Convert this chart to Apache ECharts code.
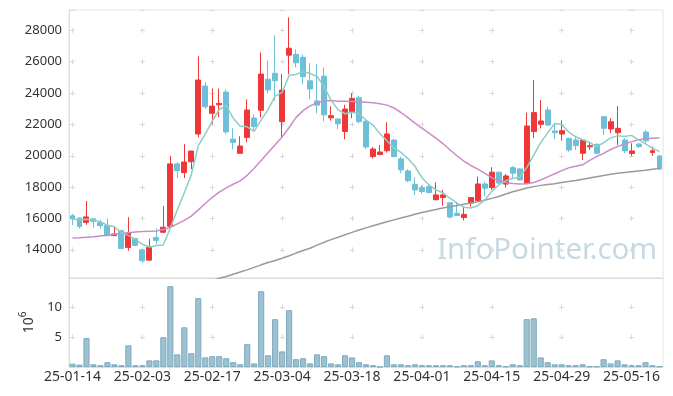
<!DOCTYPE html>
<html><head><meta charset="utf-8">
<script src="https://cdn.jsdelivr.net/npm/echarts@6/dist/echarts.min.js"></script>
<style>html,body{margin:0;padding:0;background:#fff}#c{width:673px;height:396px}</style>
</head><body><div id="c"></div>
<script>
const dates = [
'25-01-14','25-01-15','25-01-16','25-01-17','25-01-20','25-01-21','25-01-22','25-01-23','25-01-24','25-01-31',
'25-02-03','25-02-04','25-02-05','25-02-06','25-02-07','25-02-10','25-02-11','25-02-12','25-02-13','25-02-14',
'25-02-17','25-02-18','25-02-19','25-02-20','25-02-21','25-02-24','25-02-25','25-02-26','25-02-27','25-02-28',
'25-03-04','25-03-05','25-03-06','25-03-07','25-03-10','25-03-11','25-03-12','25-03-13','25-03-14','25-03-17',
'25-03-18','25-03-19','25-03-20','25-03-21','25-03-24','25-03-25','25-03-26','25-03-27','25-03-28','25-03-31',
'25-04-01','25-04-02','25-04-03','25-04-04','25-04-07','25-04-08','25-04-09','25-04-10','25-04-11','25-04-14',
'25-04-15','25-04-16','25-04-17','25-04-18','25-04-21','25-04-22','25-04-23','25-04-24','25-04-25','25-04-28',
'25-04-29','25-04-30','25-05-02','25-05-07','25-05-08','25-05-09','25-05-12','25-05-13','25-05-14','25-05-15',
'25-05-16','25-05-19','25-05-20','25-05-21','25-05-22'];

const openP = [16170,16030,15750,15975,15740,15550,14900,15220,14150,14720,
14000,13340,14780,15120,15500,19480,18920,19620,21390,24450,
22710,23250,24060,21060,20160,21170,22410,22900,24880,25260,
22175,26420,26470,26280,24780,23500,25080,22420,22350,21550,
22820,23700,22200,19950,20080,20320,21000,19800,19030,18180,
17970,18030,17200,17330,17000,16330,16060,16980,17140,18200,
17970,18950,18190,19240,19160,18250,21540,22010,22920,21580,
21390,21110,21000,20160,20570,20730,22490,21710,21470,21000,
20140,20750,21510,20200,19990];
const closeP = [15980,15480,16100,15800,15540,14900,15010,14080,15070,14280,
13300,14150,14600,15440,19480,19050,19600,20300,24830,23130,
23170,23340,21520,20840,20620,22920,21860,25210,24200,24790,
24190,26860,25930,25040,24260,23230,22610,22560,22040,22980,
23660,22180,20560,20430,20240,21390,19950,19100,18410,17820,
17720,17650,17500,17500,16090,16190,16260,17330,18200,17930,
18950,18260,18710,18890,18460,21900,22750,22220,21960,21470,
21600,20370,20650,21000,20640,20160,21750,22170,21750,20310,
20310,20580,20950,20320,19150];
const lowP = [15580,15360,15600,15380,15360,14880,14890,14060,13940,14250,
13150,13320,14360,15060,15440,18570,18570,19140,21180,23000,
22050,22460,21360,20410,20140,20860,21650,22450,24000,23530,
21160,25200,25640,24580,23610,22700,22190,22240,21710,21050,
22390,22070,20430,19820,20040,20200,19900,18890,18310,17500,
17560,17610,17140,16820,16000,16170,15880,16760,17050,17420,
17830,18200,17980,18570,18420,18200,21120,21750,21900,21070,
20970,20260,20370,19730,20370,20100,21330,21440,20690,20160,
19990,20500,20800,19990,19100];
const highP = [16300,16050,17110,15990,15900,16000,15490,15280,16080,14760,
14020,14700,15380,16800,19990,19580,20740,20320,26340,24700,
24290,24290,24240,21750,21240,23600,22650,26590,26080,27680,
25220,28830,26790,26470,25900,25870,25640,23160,22370,23250,
23980,23810,22280,20560,20680,22135,21080,19940,19140,18620,
18140,18110,18300,17820,17030,17030,16760,17350,18670,18350,
19270,19000,18840,19350,19210,22750,24830,23555,23130,22070,
22260,21150,21260,21050,20840,20790,22540,22390,23170,21110,
20800,20820,21640,20580,20050];

const ma5 = [15950,15920,15950,15900,15780,15570,15470,15070,14920,14670,
14350,14180,14280,14310,15390,16550,17640,18780,20650,21380,
22210,22950,23200,22400,21900,21850,21550,22290,22960,23800,
24040,25130,25190,25360,25260,25060,24410,23540,22940,22680,
22770,22680,22280,21960,21410,20960,20500,20220,19820,19330,
18600,18140,17820,17640,17290,16990,16710,16670,16810,17180,
17730,18130,18410,18550,18650,19240,20040,20850,21460,22060,
22000,21520,21210,21020,20850,20560,20840,21140,21270,21230,
21300,21020,20760,20490,20260];
const ma20 = [14745,14770,14800,14830,14880,14930,14990,15040,15090,15130,
15160,15180,15200,15300,15420,15650,15880,16150,16550,16950,
17350,17680,17950,18180,18400,18750,19200,19700,20200,20700,
21200,21800,22450,22880,23180,23380,23500,23520,23480,23470,
23460,23450,23420,23380,23320,23230,23050,22760,22430,22080,
21760,21440,21120,20780,20380,20000,19660,19380,19150,18870,
18600,18420,18300,18230,18200,18220,18290,18450,18650,18850,
19050,19230,19330,19420,19700,19950,20150,20400,20580,20750,
20900,21020,21080,21120,21150];
const ma120 = [null,null,null,null,null,null,null,null,null,null,
null,null,null,null,null,null,null,null,11750,11900,
12050,12180,12300,12440,12580,12720,12880,13040,13190,13320,
13460,13620,13790,13950,14100,14300,14480,14650,14800,14960,
15110,15260,15400,15530,15660,15790,15910,16030,16140,16270,
16380,16480,16570,16660,16740,16820,16900,16980,17060,17160,
17280,17400,17560,17700,17820,17940,18030,18110,18170,18220,
18290,18360,18420,18500,18580,18660,18740,18820,18880,18930,
18980,19030,19080,19140,19200];
const volume = [0.55,0.4,4.8,0.45,0.3,0.8,0.45,0.3,3.6,0.3,
0.3,1.1,1.1,4.95,13.45,2.1,6.6,2.3,11.45,1.6,
1.8,1.8,1.45,0.8,0.45,3.8,0.6,12.6,1.95,7.95,
2.6,9.45,1.3,1.45,0.6,2.1,1.8,0.6,0.45,1.95,
1.6,0.8,0.45,0.3,0.05,1.95,0.45,0.45,0.3,0.45,
0.3,0.3,0.3,0.3,0.3,0.1,0.3,0.3,0.95,0.3,
1.1,0.3,0.1,0.45,0.3,7.95,8.1,1.6,0.8,0.45,
0.45,0.3,0.3,0.45,0.1,0.1,1.3,0.6,1.1,0.45,
0.3,0.3,0.8,0.3,0.1];

const candles = dates.map((d, i) => [openP[i], closeP[i], lowP[i], highP[i]]);

const FONT = 'Noto Sans';
const GRID_W = 673 - 69 - 10;
const BAND = GRID_W / dates.length;
const HP = BAND * 10;
const mainH = 268, yMin = 12200, yMax = 29300;
const VP = mainH / (yMax - yMin) * 2000;
const firstMainY = (yMax - 28000) / (yMax - yMin) * mainH;
const volH = 89, vMax = 14.8;
const VVP = volH / vMax * 5;
const firstVolY = (vMax - 10) / vMax * volH;
const CROSS = 5;
const crossColor = '#d9d9d9';

const chart = echarts.init(document.getElementById('c'), null, {renderer: 'canvas'});
chart.setOption({
  animation: false,
  backgroundColor: '#ffffff',
  textStyle: {fontFamily: FONT},
  grid: [
    {left: 69, right: 10, top: 10, height: mainH, show: true, borderColor: '#e4e4e4', borderWidth: 1},
    {left: 69, right: 10, top: 10 + mainH, height: volH, show: true, borderColor: '#e4e4e4', borderWidth: 1}
  ],
  xAxis: [
    {type: 'category', data: dates, gridIndex: 0, boundaryGap: true,
     axisLine: {show: true, lineStyle: {color: '#dcdcdc'}}, axisTick: {show: false}, axisLabel: {show: false},
     splitLine: {show: true, interval: 9, alignWithLabel: true,
       lineStyle: {color: crossColor, width: 1, type: [CROSS, VP - CROSS], dashOffset: VP - (firstMainY - CROSS / 2)}}},
    {type: 'category', data: dates, gridIndex: 1, boundaryGap: true,
     axisLine: {show: true, lineStyle: {color: '#dcdcdc'}}, axisTick: {show: false},
     axisLabel: {interval: 9, color: '#333', fontSize: 14, fontFamily: FONT, margin: 3},
     splitLine: {show: true, interval: 9, alignWithLabel: true,
       lineStyle: {color: crossColor, width: 1, type: [CROSS, VVP - CROSS], dashOffset: VVP - (firstVolY - CROSS / 2)}}}
  ],
  yAxis: [
    {type: 'value', gridIndex: 0, min: yMin, max: yMax, splitNumber: 8,
     axisLine: {show: true, lineStyle: {color: '#dcdcdc'}}, axisTick: {show: false},
     axisLabel: {showMinLabel: false, showMaxLabel: false, color: '#333', fontSize: 13, fontFamily: FONT, margin: 7,
                 formatter: v => String(v)},
     splitLine: {show: true, lineStyle: {color: crossColor, width: 1, type: [CROSS, HP - CROSS], dashOffset: HP - (BAND / 2 - CROSS / 2)}}},
    {type: 'value', gridIndex: 1, min: 0, max: vMax, splitNumber: 3,
     axisLine: {show: true, lineStyle: {color: '#dcdcdc'}}, axisTick: {show: false},
     axisLabel: {showMinLabel: false, showMaxLabel: false, color: '#333', fontSize: 13, fontFamily: FONT, margin: 7,
                 formatter: v => String(v)},
     name: '{a|10}{b|6}', nameLocation: 'middle', nameRotate: 90, nameGap: 32,
     nameTextStyle: {rich: {a: {fontSize: 14, color: '#333', fontFamily: FONT, verticalAlign: 'bottom', lineHeight: 18},
                            b: {fontSize: 10, color: '#333', fontFamily: FONT, verticalAlign: 'top', lineHeight: 18}}},
     splitLine: {show: true, lineStyle: {color: crossColor, width: 1, type: [CROSS, HP - CROSS], dashOffset: HP - (BAND / 2 - CROSS / 2)}}}
  ],
  series: [
    {type: 'candlestick', xAxisIndex: 0, yAxisIndex: 0, data: candles, barWidth: '78%',
     itemStyle: {color: '#ef3737', color0: '#6cc1d8', borderColor: '#ef3737', borderColor0: '#6cc1d8', borderWidth: 1}},
    {type: 'line', xAxisIndex: 0, yAxisIndex: 0, data: ma120, symbol: 'none', smooth: false,
     lineStyle: {color: '#9a9a9a', width: 1.5}, z: 3},
    {type: 'line', xAxisIndex: 0, yAxisIndex: 0, data: ma20, symbol: 'none', smooth: false,
     lineStyle: {color: '#cb8cc9', width: 1.5}, z: 3},
    {type: 'line', xAxisIndex: 0, yAxisIndex: 0, data: ma5, symbol: 'none', smooth: false,
     lineStyle: {color: '#8fcdc4', width: 1.5}, z: 3},
    {type: 'bar', xAxisIndex: 1, yAxisIndex: 1, data: volume, barWidth: '88%',
     itemStyle: {color: '#9cc1d1', borderColor: '#7eaabf', borderWidth: 1}}
  ],
  graphic: [
    {type: 'text', left: 437, top: 236, z: 0, silent: true,
     style: {text: 'InfoPointer.com', fill: '#c7d9e3', fontSize: 29.5, fontFamily: FONT}}
  ]
});
</script>
</body></html>
